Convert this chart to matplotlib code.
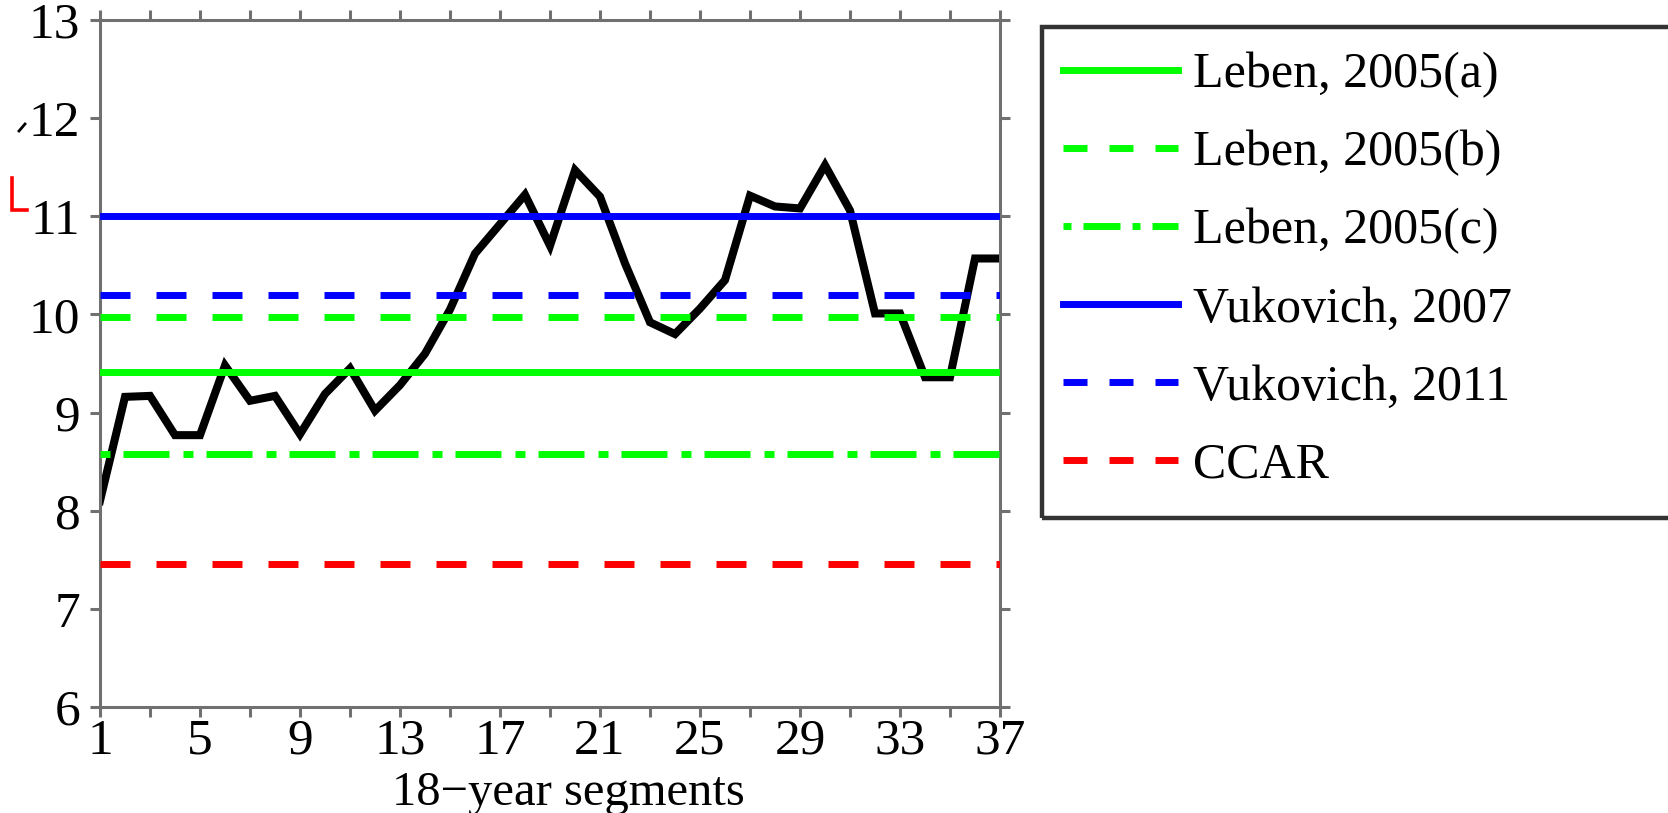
import numpy as np
import matplotlib
matplotlib.use("Agg")
import matplotlib.pyplot as plt
from matplotlib.lines import Line2D
from matplotlib.patches import Rectangle

# Black curve: value per 18-year segment
segments = np.arange(1, 38)
values = [8.10, 9.16, 9.17, 8.77, 8.77, 9.48, 9.12, 9.17, 8.78, 9.19,
          9.45, 9.02, 9.28, 9.60, 10.05, 10.62, 10.92, 11.22, 10.70, 11.47,
          11.20, 10.52, 9.92, 9.80, 10.06, 10.35, 11.21, 11.10, 11.08, 11.52,
          11.06, 10.01, 10.01, 9.36, 9.36, 10.57, 10.57]

# Reference levels from the literature
ref_labels = ["Leben, 2005(a)", "Leben, 2005(b)", "Leben, 2005(c)",
              "Vukovich, 2007", "Vukovich, 2011", "CCAR"]
ref_levels = [9.41, 9.97, 8.58, 11.00, 10.20, 7.46]
ref_colors = ["#00ff00", "#00ff00", "#00ff00", "#0000ff", "#0000ff", "#ff0000"]

xtick_labels = [1, 5, 9, 13, 17, 21, 25, 29, 33, 37]
ytick_labels = [6, 7, 8, 9, 10, 11, 12, 13]

W, H = 1668, 813
plt.rcParams["font.family"] = ["Liberation Serif", "DejaVu Serif"]
plt.rcParams["lines.scale_dashes"] = False

px = 0.72  # points per pixel at dpi 100
dash = (0, (30 * px, 26 * px))
dashdot = (0, (10 * px, 13 * px, 46 * px, 14 * px))
ref_styles = ["-", dash, dashdot, "-", dash, dash]
# shorter patterns for the legend samples
leg_dash = (0, (24 * px, 22 * px))
leg_dashdot = (0, (8 * px, 12 * px, 37 * px, 12 * px))
leg_styles = ["-", leg_dash, leg_dashdot, "-", leg_dash, leg_dash]

fig = plt.figure(figsize=(W / 100, H / 100), dpi=100)
ax = fig.add_axes([100 / W, (H - 707) / H, 900 / W, 687 / H])

ax.plot(segments, values, color="black", lw=5.8, zorder=2,
        solid_joinstyle="miter")
for lab, lev, col, ls in zip(ref_labels, ref_levels, ref_colors, ref_styles):
    ax.axhline(lev, color=col, lw=5, linestyle=ls, zorder=3, label=lab)

ax.set_xlim(1, 37)
ax.set_ylim(6, 13)
ax.set_xticks(xtick_labels)
ax.set_xticks(np.arange(3, 37, 4), minor=True)
ax.set_yticks(ytick_labels)

spine_col = "#707070"
for s in ax.spines.values():
    s.set_color(spine_col)
    s.set_linewidth(2.2)

ax.tick_params(which="both", direction="out", length=7.2, width=2.2,
               color=spine_col, top=True, right=True,
               labelsize=37, labelcolor="black")
ax.tick_params(axis="x", which="both", pad=1)
ax.tick_params(axis="y", which="both", pad=7)

fig.text(568 / W, 1 - 805 / H, "18\u2212year segments", ha="center",
         va="baseline", fontsize=35)

# Legend with a frame running off the right edge
leg_handles = [Line2D([], [], color=c, lw=5, linestyle=ls)
               for c, ls in zip(ref_colors, leg_styles)]
fig.legend(leg_handles, ref_labels, loc="upper left",
           bbox_to_anchor=(1063 / W, 1 - 52 / H),
           frameon=False, fontsize=36, handlelength=2.3,
           handletextpad=0.3, labelspacing=0.63, borderpad=0,
           borderaxespad=0)
fig.add_artist(Rectangle((1042 / W, 1 - 518 / H), 700 / W, 491 / H,
                         transform=fig.transFigure, fill=False,
                         edgecolor="#333333", lw=3.2))

# Small stray marks at the left edge
fig.add_artist(Line2D([12 / W, 12 / W, 27 / W],
                      [1 - 178 / H, 1 - 210 / H, 1 - 210 / H],
                      transform=fig.transFigure, color="#ff0000", lw=2.6,
                      solid_joinstyle="miter"))
fig.add_artist(Line2D([19 / W, 25 / W], [1 - 131 / H, 1 - 124 / H],
                      transform=fig.transFigure, color="black", lw=2))

fig.savefig("out.png", dpi=100)
